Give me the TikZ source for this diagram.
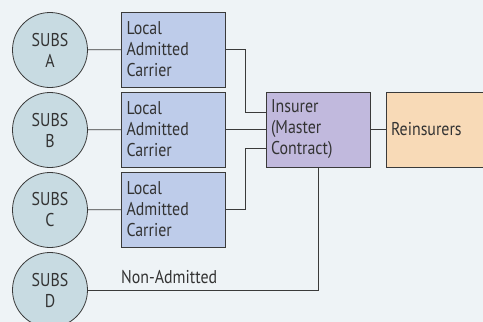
\documentclass[tikz,border=0pt]{standalone}
\usepackage{fontspec}
\setmainfont{PT Sans}[FakeStretch=0.86]
\usetikzlibrary{calc}
\definecolor{bgc}{HTML}{EEF3F6}
\definecolor{linec}{HTML}{3A3A3A}
\definecolor{subsfill}{HTML}{C8DBE2}
\definecolor{carrierfill}{HTML}{BECCEA}
\definecolor{insfill}{HTML}{C1B9DD}
\definecolor{reinsfill}{HTML}{F8DAB7}
\definecolor{textc}{HTML}{333333}
\begin{document}
\begin{tikzpicture}[x=1pt,y=-1pt,
  every node/.style={text=textc, font=\fontsize{18.5}{21}\selectfont},
  subs/.style={circle, draw=linec, line width=0.8pt, fill=subsfill, minimum size=75pt, inner sep=0pt, align=center},
  carrier/.style={rectangle, draw=linec, line width=0.8pt, fill=carrierfill, minimum height=75pt, inner xsep=5pt, text width=94pt, align=left},
  insurer/.style={carrier, fill=insfill},
  reins/.style={rectangle, draw=linec, line width=0.8pt, fill=reinsfill, minimum height=75pt, inner xsep=5pt, text width=94pt, align=left},
  conn/.style={draw=linec, line width=0.8pt}]
\fill[bgc] (0,0) rectangle (483,322);
\useasboundingbox (0,0) rectangle (483,322);
\clip (0,0) rectangle (483,322);
\node[subs] (sA) at (50,50) {SUBS\\A};
\node[subs] (sB) at (50,130) {SUBS\\B};
\node[subs] (sC) at (50,210) {SUBS\\C};
\node[subs] (sD) at (50,290) {SUBS\\D};
\node[carrier] (bA) at (173.5,49.5) {Local\\Admitted\\Carrier};
\node[carrier] (bB) at (173.5,129.5) {Local\\Admitted\\Carrier};
\node[carrier] (bC) at (173.5,209.5) {Local\\Admitted\\Carrier};
\node[insurer] (ins) at (318,129.5) {Insurer\\(Master\\Contract)};
\node[reins] (re) at (438,129.5) {Reinsurers};
\coordinate (i1) at ($(ins.west)+(0,-17)$);
\coordinate (i3) at ($(ins.west)+(0,18.5)$);
\draw[conn] (sA) -- (bA);
\draw[conn] (sB) -- (bB);
\draw[conn] (sC) -- (bC);
\draw[conn] (bA.east) -- ++(19,0) |- (i1);
\draw[conn] (bB.east) -- (ins.west |- bB.east);
\draw[conn] (bC.east) -- ++(19,0) |- (i3);
\draw[conn] (sD.east) -| (ins.south);
\draw[conn] (ins) -- (re);
\node[anchor=base west, inner sep=0pt] (na) at (121,283) {Non-Admitted};
\end{tikzpicture}
\end{document}
